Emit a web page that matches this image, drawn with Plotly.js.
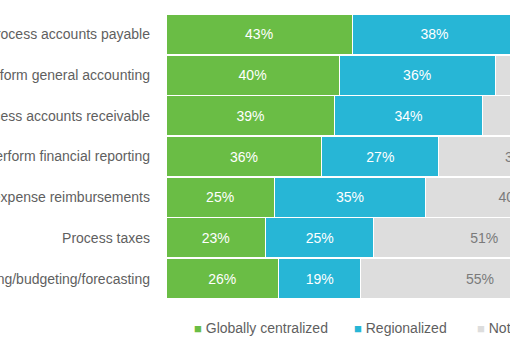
<!DOCTYPE html>
<html>
<head>
<meta charset="utf-8">
<script src="https://cdn.plot.ly/plotly-3.0.1.min.js"></script>
<style>
  html, body { margin: 0; padding: 0; width: 510px; height: 343px; overflow: hidden; background: #fff; }
  #wrap { position: relative; width: 510px; height: 343px; overflow: hidden; }
  #chart { position: absolute; left: -80px; top: 0; width: 700px; height: 343px; }
</style>
</head>
<body>
<div id="wrap"><div id="chart"></div></div>
<script>
const categories = [
  "Process accounts payable",
  "Perform general accounting",
  "Process accounts receivable",
  "Perform financial reporting",
  "Process expense reimbursements",
  "Process taxes",
  "Planning/budgeting/forecasting"
];
const globallyCentralized = [43, 40, 39, 36, 25, 23, 26];
const regionalized = [38, 36, 34, 27, 35, 25, 19];
const notCentralized = [19, 24, 27, 37, 40, 51, 55];
const seriesNames = ["Globally centralized", "Regionalized", "Not centralized"];
const seriesColors = ["#6abd45", "#27b6d6", "#dddddd"];
const textColors = ["#ffffff", "#ffffff", "#7a7a7a"];
const seriesValues = [globallyCentralized, regionalized, notCentralized];

const FONT = "Arial, 'Liberation Sans', sans-serif";

const traces = seriesValues.map((vals, i) => ({
  type: "bar",
  orientation: "h",
  name: seriesNames[i],
  y: categories,
  x: vals,
  marker: { color: seriesColors[i], line: { color: "#ffffff", width: 1 } },
  texttemplate: "%{x}%",
  textposition: "inside",
  insidetextanchor: "middle",
  textangle: 0,
  textfont: { family: FONT, size: 14, color: textColors[i] },
  constraintext: "none",
  showlegend: false,
  hoverinfo: "skip"
}));

const legendX = [0.060, 0.4296, 0.7136];
const annotations = seriesNames.map((n, i) => ({
  xref: "paper", yref: "paper",
  x: legendX[i], y: -0.1006,
  xanchor: "left", yanchor: "middle",
  showarrow: false,
  text: '<span style="color:' + seriesColors[i] + ';font-size:13px">■</span> ' + n,
  font: { family: FONT, size: 14, color: "#5f5f5f" }
}));

const layout = {
  width: 700, height: 343,
  margin: { l: 245.7, r: 21.3, t: 14, b: 43.7, autoexpand: false },
  barmode: "stack",
  bargap: 0.02,
  paper_bgcolor: "#ffffff",
  plot_bgcolor: "#ffffff",
  showlegend: false,
  xaxis: {
    range: [0, 100], showgrid: false, zeroline: false, showticklabels: false,
    showline: false, ticks: "", fixedrange: true
  },
  yaxis: {
    autorange: "reversed", showgrid: false, zeroline: false, showline: false,
    ticks: "", ticklabelstandoff: 15, automargin: false,
    tickfont: { family: FONT, size: 14, color: "#5f5f5f" }
  },
  annotations: annotations
};

Plotly.newPlot("chart", traces, layout, { displayModeBar: false, staticPlot: true });
</script>
</body>
</html>
